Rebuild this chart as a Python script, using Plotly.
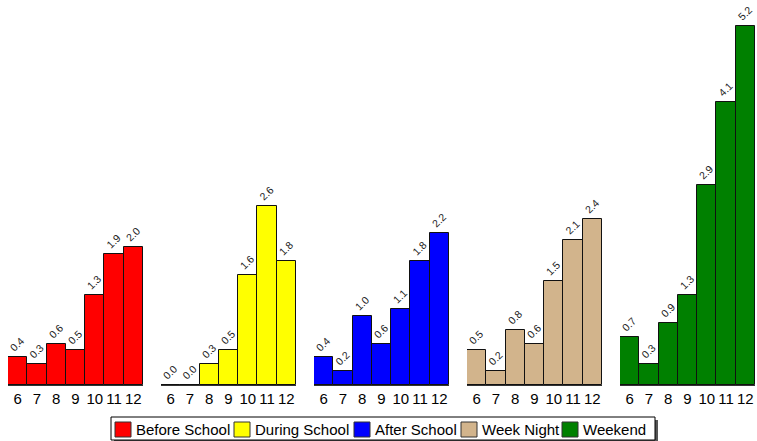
import plotly.graph_objects as go

grades = ["6", "7", "8", "9", "10", "11", "12"]
series_names = ["Before School", "During School", "After School", "Week Night", "Weekend"]
before_school = [0.4, 0.3, 0.6, 0.5, 1.3, 1.9, 2.0]
during_school = [0.0, 0.0, 0.3, 0.5, 1.6, 2.6, 1.8]
after_school = [0.4, 0.2, 1.0, 0.6, 1.1, 1.8, 2.2]
week_night = [0.5, 0.2, 0.8, 0.6, 1.5, 2.1, 2.4]
weekend = [0.7, 0.3, 0.9, 1.3, 2.9, 4.1, 5.2]
colors = ["#FF0000", "#FFFF00", "#0000FF", "#D2B48C", "#008000"]

all_series = [before_school, during_school, after_school, week_night, weekend]

W, H = 757, 441
mb = 56
ph = H - mb  # plot area height in px


def px_x(p):
    return p / W


def px_y(p):
    return (ph - p) / ph


FONT = "Liberation Sans, Arial, sans-serif"

fig = go.Figure()
layout = dict(
    width=W, height=H,
    margin=dict(l=0, r=0, t=0, b=mb),
    plot_bgcolor="white", paper_bgcolor="white",
    bargap=0, showlegend=False,
    font=dict(family=FONT),
)
for i, (name, vals, col) in enumerate(zip(series_names, all_series, colors)):
    ax = "" if i == 0 else str(i + 1)
    fig.add_trace(go.Bar(
        x=grades, y=vals, name=name,
        marker=dict(color=col, line=dict(color="#111111", width=1)),
        text=[f"{v:.1f}" for v in vals], textposition="outside",
        textangle=-45, constraintext="none",
        textfont=dict(size=10.5, color="#222222", family=FONT),
        cliponaxis=False, hoverinfo="skip",
        xaxis="x" + ax, yaxis="y" + ax,
    ))
    d0 = px_x(8 + 153 * i)
    d1 = px_x(143 + 153 * i)
    layout["xaxis" + ax] = dict(domain=[d0, d1], type="category", showgrid=False,
                                showline=True, linecolor="#333333", linewidth=1,
                                ticks="", tickfont=dict(size=15, color="black", family=FONT),
                                anchor="y" + ax, fixedrange=True)
    layout["yaxis" + ax] = dict(range=[0, 5.577], visible=False, showgrid=False,
                                anchor="x" + ax, domain=[0, 1], fixedrange=True)

# Manual legend (box with shadow, coloured squares, labels)
shapes = [
    dict(type="rect", xref="paper", yref="paper",
         x0=px_x(114), x1=px_x(658), y0=px_y(443), y1=px_y(420),
         fillcolor="#555555", line=dict(width=0), layer="above"),
    dict(type="rect", xref="paper", yref="paper",
         x0=px_x(111), x1=px_x(655), y0=px_y(440), y1=px_y(417),
         fillcolor="white", line=dict(color="black", width=1), layer="above"),
]
annotations = []
sq_left = [115, 234, 354, 461, 562]
for name, col, sx in zip(series_names, colors, sq_left):
    shapes.append(dict(type="rect", xref="paper", yref="paper",
                       x0=px_x(sx), x1=px_x(sx + 16), y0=px_y(437), y1=px_y(422),
                       fillcolor=col, line=dict(color="#333333", width=1), layer="above"))
    annotations.append(dict(xref="paper", yref="paper", x=px_x(sx + 19), y=px_y(429.5),
                            text=name, showarrow=False, xanchor="left", yanchor="middle",
                            font=dict(size=15, color="black", family=FONT)))
layout["shapes"] = shapes
layout["annotations"] = annotations

fig.update_layout(**layout)
fig.write_html("out.html", config={"displayModeBar": False},
               post_script="document.body.style.margin='0px';")
